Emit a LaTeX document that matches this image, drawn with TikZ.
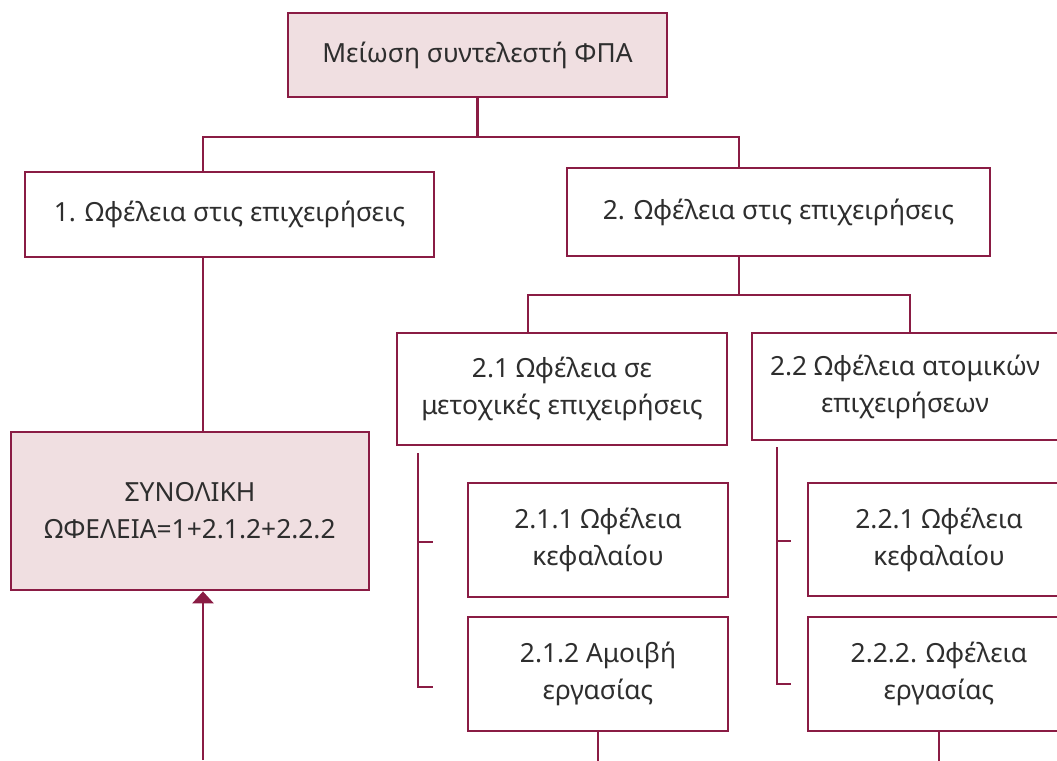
\documentclass[tikz,border=0pt]{standalone}
\usepackage{fontspec}
\setmainfont{Noto Sans}
\usetikzlibrary{arrows.meta}

\definecolor{wine}{HTML}{8A1C44}
\definecolor{blush}{HTML}{F0DFE1}
\definecolor{ink}{HTML}{2E2E2E}

\tikzset{
	box/.style={shape=rectangle, draw=wine, line width=1.6pt, text=ink, align=center,
		inner sep=0pt, font=\fontsize{15}{21}\selectfont},
	keybox/.style={box, fill=blush},
	link/.style={draw=wine, line width=1.6pt},
}

\begin{document}
\begin{tikzpicture}[x=0.02cm, y=-0.02cm]
	
	\clip (0,0) rectangle (1057,760);
	
	\node[keybox, minimum width=7.58cm, minimum height=1.68cm] (top)  at (477.5, 55)  {Μείωση συντελεστή ΦΠΑ};
	\node[box, minimum width=8.18cm, minimum height=1.70cm]    (b1)   at (229.5, 214.5) {1. Ωφέλεια στις επιχειρήσεις};
	\node[box, minimum width=8.46cm, minimum height=1.76cm]    (b2)   at (778.5, 212) {2. Ωφέλεια στις επιχειρήσεις};
	\node[keybox, minimum width=7.16cm, minimum height=3.16cm] (total) at (190, 511)  {ΣΥΝΟΛΙΚΗ\\ΩΦΕΛΕΙΑ=1+2.1.2+2.2.2};
	\node[box, minimum width=6.60cm, minimum height=2.24cm]    (b21)  at (562, 389)   {2.1 Ωφέλεια σε\\μετοχικές επιχειρήσεις};
	\node[box, minimum width=6.12cm, minimum height=2.14cm]    (b22)  at (905, 386.5) {2.2 Ωφέλεια ατομικών\\επιχειρήσεων};
	\node[box, minimum width=5.20cm, minimum height=2.28cm]    (b211) at (598, 540)   {2.1.1 Ωφέλεια\\κεφαλαίου};
	\node[box, minimum width=5.20cm, minimum height=2.28cm]    (b212) at (598, 674)   {2.1.2 Αμοιβή\\εργασίας};
	\node[box, minimum width=5.24cm, minimum height=2.26cm]    (b221) at (939, 539.5) {2.2.1 Ωφέλεια\\κεφαλαίου};
	\node[box, minimum width=5.24cm, minimum height=2.28cm]    (b222) at (939, 674)   {2.2.2. Ωφέλεια\\εργασίας};
	
	% junctions of the tree
	\coordinate (j1) at (203, 137);
	\coordinate (j2) at (739, 137);
	\coordinate (j3) at (528, 295);
	\coordinate (j4) at (910, 295);
	\coordinate (feed) at (203, 760);
	
	\path[link] (top.south) edge (top.south |- j1);
	\draw[link] (b1.north -| j1) -- (j1) -- (j2) -- (b2.north -| j2);
	\path[link] (b1.south -| j1) edge (total.north -| j1);
	\draw[link, -{Triangle[width=0.42cm, length=0.24cm]}] (feed) -- (total.south -| feed);
	
	\path[link] (b2.south -| j2) edge (j2 |- j3);
	\draw[link] (b21.north -| j3) -- (j3) -- (j4) -- (b22.north -| j4);
	
	% brackets
	\draw[link] (418, 453) -- (418, 687) -- (433, 687);
	\draw[link] (418, 542) -- (433, 542);
	\draw[link] (777, 447) -- (777, 684) -- (791, 684);
	\draw[link] (777, 541) -- (791, 541);
	
	\path[link] (b212.south) edge ++(0, 30);
	\path[link] (b222.south) edge ++(0, 30);
	
\end{tikzpicture}
\end{document}
